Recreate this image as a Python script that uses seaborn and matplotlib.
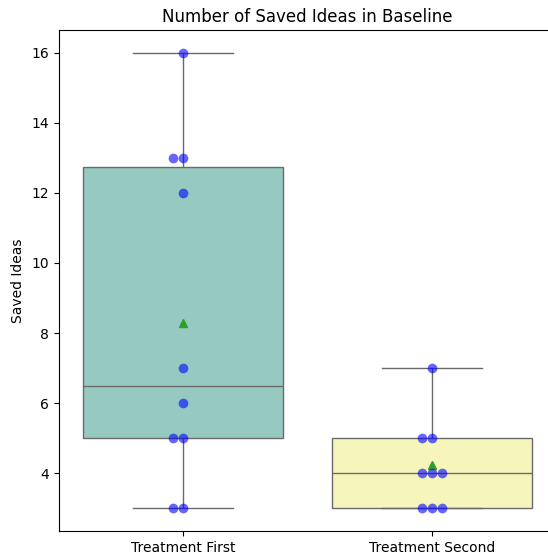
import numpy as np
import pandas as pd
import matplotlib
matplotlib.use("Agg")
import matplotlib.pyplot as plt
import seaborn as sns

# data
groups = ["Treatment First", "Treatment Second"]
first_ideas = [16, 13, 13, 12, 7, 6, 5, 5, 3, 3]
second_ideas = [7, 5, 5, 4, 4, 4, 3, 3, 3]

df = pd.DataFrame({
    "Group": [groups[0]] * len(first_ideas) + [groups[1]] * len(second_ideas),
    "Saved Ideas": first_ideas + second_ideas,
})

fig = plt.figure(figsize=(5.48, 5.58), dpi=100)
# axes run past the right edge, as in the cropped original
ax = fig.add_axes([58.5 / 548, 27 / 558, 498 / 548, 501 / 558])

sns.boxplot(data=df, x="Group", y="Saved Ideas", hue="Group", palette="Set3",
            showmeans=True, legend=False, ax=ax)
sns.swarmplot(data=df, x="Group", y="Saved Ideas", color="blue", alpha=0.6,
              size=7, ax=ax)

ax.set_title("Number of Saved Ideas in Baseline")
ax.set_xlabel("")
ax.set_ylabel("Saved Ideas")
ax.spines["right"].set_visible(False)

fig.savefig("out.png", dpi=100)
